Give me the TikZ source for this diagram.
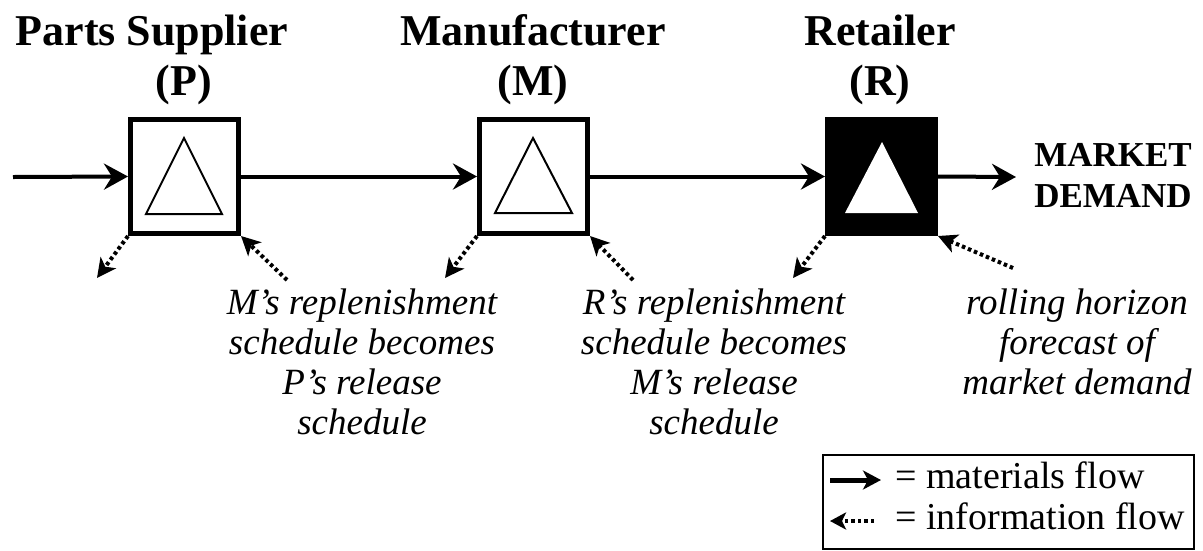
\documentclass[tikz,border=0pt]{standalone}
\usepackage{fontspec}
\setmainfont{Liberation Serif}
\usetikzlibrary{arrows.meta}
\begin{document}
\begin{tikzpicture}[x=1pt,y=-1pt,
  title/.style={font=\fontsize{44}{50}\selectfont\bfseries, inner sep=0pt, anchor=base},
  stage/.style={draw, line width=5pt, minimum width=108pt, minimum height=114pt, inner sep=0pt},
  tri/.style={line width=2pt, line join=miter},
  mat/.style={line width=4pt, -{Stealth[length=24pt,width=26pt,inset=8pt]}},
  info/.style={line width=4pt, dash pattern=on 3.5pt off 3pt, -{Stealth[length=19pt,width=19pt,inset=5pt]}},
  note/.style={font=\fontsize{37}{40}\selectfont\itshape, align=center, inner sep=0pt, anchor=north},
  legtext/.style={font=\fontsize{38}{41}\selectfont, inner sep=0pt, anchor=base west}]
\useasboundingbox (0,0) rectangle (1203,550);

% titles
\node[title] (tP)  at (152,45) {Parts Supplier};
\node[title] (tP2) at (184,95) {(P)};
\node[title] (tM)  at (533,45) {Manufacturer};
\node[title] (tM2) at (533,95) {(M)};
\node[title] (tR)  at (880,45) {Retailer};
\node[title] (tR2) at (880,95) {(R)};

% stages
\node[stage] (P) at (184.5,176.5) {};
\node[stage] (M) at (533.5,176.5) {};
\node[stage, fill=black] (R) at (881.5,176.5) {};
\draw[tri] (184,138) -- (222,214) -- (146,214) -- cycle;
\draw[tri] (533,138) -- (572,213) -- (495,213) -- cycle;
\fill[white] (882,142) -- (918,213) -- (845,213) -- cycle;

% materials flow
\coordinate (in) at (13,177);
\coordinate (mkt) at (1016,177);
\draw[mat] (in) -- (P.west);
\draw[mat] (P.east) -- (M.west);
\draw[mat] (M.east) -- (R.west);
\draw[mat] (R.east) -- (mkt);

\node[font=\fontsize{35}{41}\selectfont\bfseries, align=center, inner sep=0pt, anchor=north] (md) at (1113,143) {MARKET\\DEMAND};

% information flow
\coordinate (Po) at (97,278);
\coordinate (Pi) at (287,280);
\coordinate (Mo) at (445,278);
\coordinate (Mi) at (633,280);
\coordinate (Ro) at (793,278);
\coordinate (Ri) at (1013,268);
\draw[info] (P.south west) -- (Po);
\draw[info] (Pi) -- (P.south east);
\draw[info] (M.south west) -- (Mo);
\draw[info] (Mi) -- (M.south east);
\draw[info] (R.south west) -- (Ro);
\draw[info] (Ri) -- (R.south east);

% notes
\node[note] (n1) at (362,289) {M’s replenishment\\schedule becomes\\P’s release\\schedule};
\node[note] (n2) at (714,289) {R’s replenishment\\schedule becomes\\M’s release\\schedule};
\node[note] (n3) at (1077,289) {rolling horizon\\forecast of\\market demand};

% legend
\draw[line width=1.8pt] (823,455) rectangle (1194,549);
\coordinate (a1s) at (830,480);
\coordinate (a1e) at (881,480);
\coordinate (a2s) at (874,521);
\coordinate (a2e) at (830,521);
\draw[line width=5pt, -{Stealth[length=18pt,width=19pt,inset=5pt]}] (a1s) -- (a1e);
\draw[info, -{Stealth[length=16pt,width=17pt,inset=4pt]}] (a2s) -- (a2e);
\node[legtext] (l1) at (895,488) {= materials flow};
\node[legtext] (l2) at (895,529) {= information flow};
\end{tikzpicture}
\end{document}
